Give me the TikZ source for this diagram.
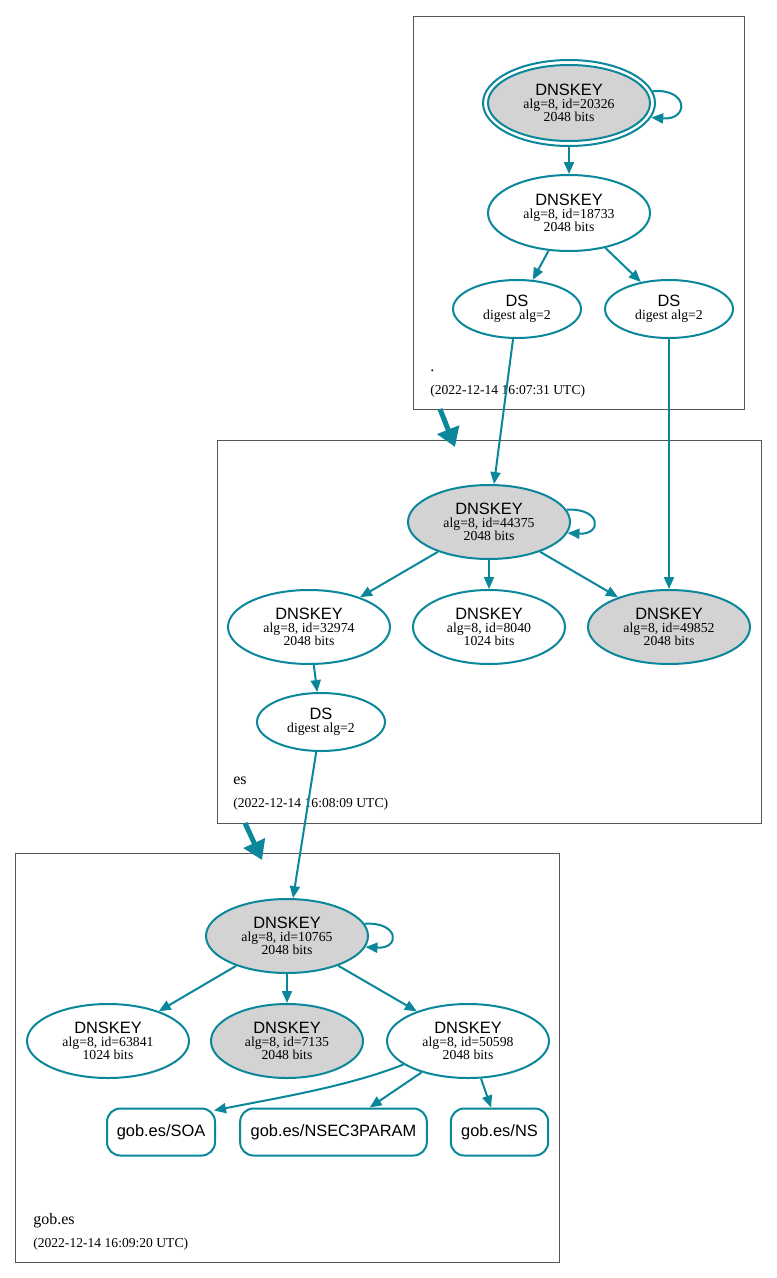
\documentclass[tikz,border=0pt]{standalone}
\usepackage{fontspec}
\setmainfont{Liberation Serif}
\newfontfamily\arialf{Liberation Sans}
\usetikzlibrary{arrows.meta,shapes.geometric}
\definecolor{dteal}{HTML}{0A879A}
\definecolor{kgray}{HTML}{D3D3D3}
\definecolor{cgray}{HTML}{555555}
\newcommand\dnskeytxt[2]{{\arialf\fontsize{12.3}{12}\selectfont DNSKEY}\\alg=8, id=#1\\#2 bits}
\newcommand\dstxt{{\arialf\fontsize{12.3}{12}\selectfont DS}\\digest alg=2}
\begin{document}
\begin{tikzpicture}[x=0.75pt,y=-0.75pt,
  keynode/.style={ellipse,draw=dteal,line width=1.5pt,inner sep=0pt,align=center,
    font=\fontsize{10.3}{9.75}\selectfont,minimum width=121.5pt,minimum height=55.5pt},
  smallkey/.style={keynode,minimum width=114pt},
  sep/.style={fill=kgray},
  dsnode/.style={keynode,minimum width=96pt,minimum height=43.5pt},
  rrnode/.style={rectangle,rounded corners=10pt,draw=dteal,line width=1.5pt,inner sep=0pt,
    font=\arialf\fontsize{12.3}{12}\selectfont,minimum height=35.25pt},
  edge/.style={draw=dteal,line width=1.5pt,-{Triangle[length=9pt,width=7.5pt]}},
  deleg/.style={draw=dteal,line width=3.75pt,-{Triangle[length=14pt,width=17pt]}},
  cluster/.style={draw=cgray,line width=0.75pt},
  zonelbl/.style={anchor=base west,inner sep=0pt,font=\fontsize{12}{12}\selectfont},
  datelbl/.style={anchor=base west,inner sep=0pt,font=\fontsize{10.2}{10}\selectfont}]
\useasboundingbox (0,0) rectangle (777,1278);
\fill[white] (0,0) rectangle (777,1278);

% clusters
\draw[cluster] (413,16) rectangle (744,409);
\draw[cluster] (217,440) rectangle (761,823);
\draw[cluster] (15,853) rectangle (559,1262);

% root zone
\node[keynode,sep,minimum height=57pt] (r20326in) at (569,103) {\dnskeytxt{20326}{2048}};
\node[ellipse,draw=dteal,line width=1.5pt,minimum width=129pt,minimum height=64.5pt,inner sep=0pt] (r20326) at (569,103) {};
\node[keynode,minimum height=57pt] (r18733) at (569,213) {\dnskeytxt{18733}{2048}};
\node[dsnode] (rds1) at (517,309) {\dstxt};
\node[dsnode] (rds2) at (669,309) {\dstxt};
\node[zonelbl] (rlbl) at (430,371) {.};
\node[datelbl] (rdate) at (430,394) {(2022-12-14 16:07:31 UTC)};

% es zone
\node[keynode,sep] (e44375) at (489,522) {\dnskeytxt{44375}{2048}};
\node[keynode] (e32974) at (309,627) {\dnskeytxt{32974}{2048}};
\node[smallkey] (e8040) at (489,627) {\dnskeytxt{8040}{1024}};
\node[keynode,sep] (e49852) at (669,627) {\dnskeytxt{49852}{2048}};
\node[dsnode] (eds) at (321,722) {\dstxt};
\node[zonelbl] (elbl) at (233,784) {es};
\node[datelbl] (edate) at (233,807) {(2022-12-14 16:08:09 UTC)};

% gob.es zone
\node[keynode,sep] (g10765) at (287,936) {\dnskeytxt{10765}{2048}};
\node[keynode] (g63841) at (108,1041) {\dnskeytxt{63841}{1024}};
\node[smallkey,sep] (g7135) at (287,1041) {\dnskeytxt{7135}{2048}};
\node[keynode] (g50598) at (468,1041) {\dnskeytxt{50598}{2048}};
\node[rrnode,minimum width=81pt] (soa) at (161,1132) {gob.es/SOA};
\node[rrnode,minimum width=140pt] (nsec) at (333.5,1132) {gob.es/NSEC3PARAM};
\node[rrnode,minimum width=73pt] (ns) at (499.5,1132) {gob.es/NS};
\node[zonelbl] (glbl) at (33,1224) {gob.es};
\node[datelbl] (gdate) at (33,1247) {(2022-12-14 16:09:20 UTC)};

% self loops
\draw[edge] (r20326.8) .. controls +(36,-3) and +(38,3) .. (r20326.-10);
\draw[edge] (e44375.9) .. controls +(35,-2) and +(35,2) .. (e44375.-8);
\draw[edge] (g10765.9) .. controls +(35,-2) and +(35,2) .. (g10765.-8);

% edges
\draw[edge] (r20326) -- (r18733);
\draw[edge] (r18733) -- (rds1);
\draw[edge] (r18733) -- (rds2);
\draw[edge] (rds1) -- (e44375);
\draw[edge] (rds2) -- (e49852);
\draw[edge] (e44375) -- (e32974);
\draw[edge] (e44375) -- (e8040);
\draw[edge] (e44375) -- (e49852);
\draw[edge] (e32974) -- (eds);
\draw[edge] (eds) -- (g10765);
\draw[edge] (g10765) -- (g63841);
\draw[edge] (g10765) -- (g7135);
\draw[edge] (g10765) -- (g50598);
\draw[edge] (g50598.200) .. controls +(-55,22) and +(60,-12) .. ([shift={(-2,3)}]soa.north east);
\draw[edge] (g50598) -- (nsec);
\draw[edge] (g50598) -- (ns);

% delegations
\coordinate (d1s) at (440,409);
\coordinate (d1e) at (455,447);
\coordinate (d2s) at (245,823);
\coordinate (d2e) at (262,860);
\draw[deleg] (d1s) -- (d1e);
\draw[deleg] (d2s) -- (d2e);
\end{tikzpicture}
\end{document}
